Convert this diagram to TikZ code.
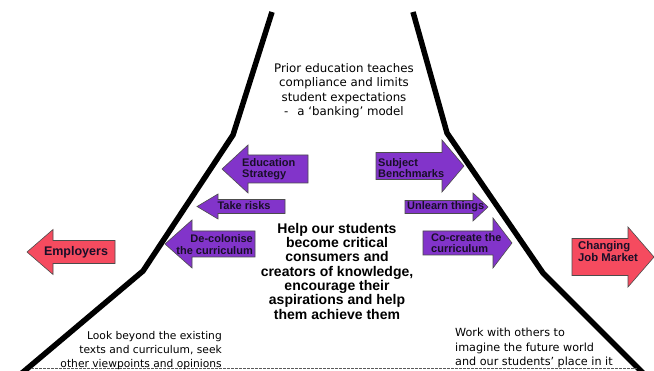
\documentclass[tikz,border=0pt]{standalone}
\usepackage{fontspec}
\setmainfont{Liberation Sans}
\newfontfamily\lightsans{DejaVu Sans}
\definecolor{arrowpurple}{RGB}{130,52,202}
\definecolor{arrowred}{RGB}{245,75,95}
\definecolor{labelink}{RGB}{25,15,40}
\tikzset{
x=1pt, y=-1pt, % one unit is one pixel of the reference, y runs down
wall/.style={line width=5.5pt, line join=round}, % the two thick black sides
blk/.style={draw=black!70, line width=0.6pt}, % outline of every block arrow
purplearrow/.style={blk, fill=arrowpurple},
redarrow/.style={blk, fill=arrowred},
tag/.style={font=\bfseries\fontsize{11}{11.5}\selectfont, text=labelink, inner sep=0pt}, % text on an arrow
note/.style={font=\lightsans\fontsize{11.8}{14.6}\selectfont, inner sep=0pt}, % plain text
}
% block arrow: [style] {tail x}{head base x}{tip x}{middle y}{half body}{half head}
\newcommand{\blockarrow}[7][]{%
  \draw[#1] (#2,#5-#6) -- (#3,#5-#6) -- (#3,#5-#7) -- (#4,#5)
    -- (#3,#5+#7) -- (#3,#5+#6) -- (#2,#5+#6) -- cycle;}

\begin{document}
\begin{tikzpicture}
\useasboundingbox[fill=white] (0,0) rectangle (654,371);

% arrows on the left
\blockarrow[redarrow]{115}{53}{27}{252}{11.5}{22.5}
\blockarrow[purplearrow]{308}{248}{222}{169}{14}{24}
\blockarrow[purplearrow]{285}{218}{197}{206.5}{7}{12.5}
\blockarrow[purplearrow]{255}{192}{165}{244}{13}{24}
% arrows on the right
\blockarrow[purplearrow]{376}{442}{464}{166}{13.5}{26}
\blockarrow[purplearrow]{405}{473}{488}{207}{6.5}{14}
\blockarrow[purplearrow]{423}{493}{512}{243}{12}{25}
\blockarrow[redarrow]{572}{628}{654}{257}{18.5}{30}

% the two sides
\draw[wall] (272,12) -- (233,135) -- (143,271) -- (22,373);
\draw[wall] (413,12) -- (447,133) -- (543,273) -- (644,374);
\draw[black!65, line width=0.6pt, dash pattern=on 2.5pt off 1.5pt] (31,368) -- (637,368);

% arrow labels
\node[tag, font=\bfseries\fontsize{12.5}{13}\selectfont] (employers) at (76,252) {Employers};
\node[tag, anchor=west, align=left] (strategy) at (242,169) {Education\\Strategy};
\node[tag] (risks) at (244,206) {Take risks};
\node[tag, anchor=east, align=right] (decolonise) at (253,244.5) {De-colonise\\the curriculum};
\node[tag, anchor=west, align=left] (benchmarks) at (378,168) {Subject\\Benchmarks};
\node[tag, anchor=west] (unlearn) at (407,207) {Unlearn things};
\node[tag, anchor=west, align=left] (cocreate) at (431,243) {Co-create the\\curriculum};
\node[tag, anchor=west, align=left, font=\bfseries\fontsize{11.3}{12}\selectfont] (jobmarket) at (578,251) {Changing\\Job Market};

% texts
\node[note, anchor=north, align=center] (prior) at (344,63)
  {Prior education teaches\\compliance and limits\\student expectations\\-\hspace{9pt}a ‘banking’ model};
\node[anchor=north, align=center, inner sep=0pt, font=\bfseries\fontsize{14}{14.3}\selectfont] (aim) at (337,223)
  {Help our students\\become critical\\consumers and\\creators of knowledge,\\encourage their\\aspirations and help\\them achieve them};
\node[note, anchor=north east, align=right, font=\lightsans\fontsize{10.7}{14}\selectfont] (beyond) at (222,331)
  {Look beyond the existing\\texts and curriculum, seek\\other viewpoints and opinions};
\node[note, anchor=north west, align=left, font=\lightsans\fontsize{11.2}{14.6}\selectfont] (others) at (455,328)
  {Work with others to\\imagine the future world\\and our students’ place in it};
\end{tikzpicture}
\end{document}
